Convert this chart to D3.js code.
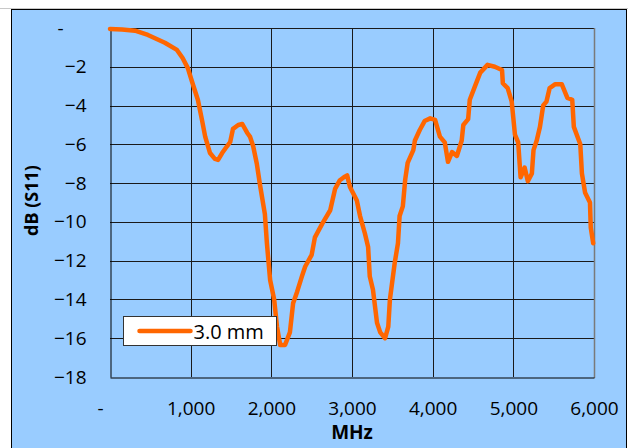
<!DOCTYPE html>
<html lang="en">
<head>
    <meta charset="UTF-8">
    <title>S11 chart</title>
    <script src="https://d3js.org/d3.v7.min.js"></script>
    <style>
        body { margin: 0; background: #fff; }
        text { font-family: "Open Sans", sans-serif; fill: #000; }
    </style>
</head>
<body>
<div id="chart"></div>
<script>
    // frequency (MHz) and return loss (dB)
    const freq = [0, 150, 310, 470, 680, 830, 900, 965, 1030, 1090, 1140, 1180, 1240, 1300, 1340, 1390,
        1450, 1490, 1525, 1590, 1640, 1700, 1735, 1775, 1820, 1860, 1920, 1945, 1985, 2035, 2070, 2110,
        2170, 2230, 2270, 2320, 2380, 2420, 2500, 2540, 2630, 2730, 2790, 2850, 2900, 2940, 2975, 3060,
        3100, 3160, 3200, 3220, 3260, 3310, 3350, 3410, 3450, 3470, 3530, 3570, 3590, 3630, 3660, 3690,
        3760, 3780, 3840, 3900, 3970, 4030, 4090, 4150, 4190, 4240, 4300, 4360, 4380, 4440, 4460, 4525,
        4590, 4680, 4770, 4860, 4870, 4930, 4980, 5020, 5060, 5090, 5140, 5180, 5230, 5250, 5290, 5330,
        5370, 5410, 5450, 5520, 5600, 5670, 5730, 5750, 5830, 5850, 5890, 5950, 5960, 5990];
    const s11 = [-0.05, -0.08, -0.14, -0.36, -0.76, -1.13, -1.55, -2.07, -2.94, -3.71, -4.74, -5.6, -6.45, -6.75, -6.8, -6.45,
        -6.1, -5.88, -5.2, -5.0, -4.95, -5.4, -5.6, -6.1, -7.0, -8.1, -9.6, -11.1, -13.0, -14.0, -15.4, -16.35,
        -16.35, -15.7, -14.2, -13.6, -12.8, -12.3, -11.7, -10.8, -10.1, -9.4, -8.3, -7.85, -7.7, -7.6, -8.2, -8.9,
        -9.7, -10.6, -11.3, -12.8, -13.5, -15.2, -15.7, -16.0, -15.4, -14.0, -12.1, -11.1, -9.7, -9.2, -7.8, -6.96,
        -6.3, -5.8, -5.26, -4.8, -4.66, -4.74, -5.6, -5.9, -6.9, -6.4, -6.6, -5.8, -5.0, -4.7, -3.7, -3.0,
        -2.3, -1.9, -2.0, -2.17, -2.85, -3.1, -3.8, -5.5, -5.9, -7.7, -7.2, -7.9, -7.5, -6.3, -5.8, -5.1,
        -4.0, -3.8, -3.1, -2.9, -2.9, -3.6, -3.7, -5.1, -6.0, -7.5, -8.5, -9.0, -10.3, -11.1];
    const xTicks = [0, 1000, 2000, 3000, 4000, 5000, 6000];
    const yTicks = [0, -2, -4, -6, -8, -10, -12, -14, -16, -18];
    const seriesName = "3.0 mm";

    const width = 634, height = 448;
    const plot = {left: 110, top: 28, right: 594, bottom: 377};

    const svg = d3.select("#chart").append("svg")
        .attr("width", width)
        .attr("height", height);

    // chart area
    svg.append("rect")
        .attr("x", 11.5).attr("y", 9.5)
        .attr("width", 615).attr("height", 460)
        .attr("fill", "#99ccff")
        .attr("stroke", "#000");
    svg.append("line")
        .attr("x1", 0).attr("x2", 628).attr("y1", 8.5).attr("y2", 8.5)
        .attr("stroke", "#c8c8c8");

    const x = d3.scaleLinear().domain([0, 6000]).range([plot.left, plot.right]);
    const y = d3.scaleLinear().domain([-18, 0]).range([plot.bottom, plot.top]);

    // grid
    const grid = svg.append("g");
    grid.selectAll(".hg").data(yTicks.filter(d => d > -18))
        .join("line")
        .attr("x1", plot.left).attr("x2", plot.right)
        .attr("y1", d => Math.round(y(d)) + 0.5).attr("y2", d => Math.round(y(d)) + 0.5)
        .attr("stroke", "#1a1a1a");
    grid.selectAll(".vg").data(xTicks.filter(d => d > 0 && d < 6000))
        .join("line")
        .attr("x1", d => Math.round(x(d)) + 0.5).attr("x2", d => Math.round(x(d)) + 0.5)
        .attr("y1", plot.top).attr("y2", plot.bottom)
        .attr("stroke", "#1a1a1a");
    // plot border right side
    svg.append("line")
        .attr("x1", plot.right + 0.5).attr("x2", plot.right + 0.5)
        .attr("y1", plot.top).attr("y2", plot.bottom + 1)
        .attr("stroke", "#7a7a7a").attr("stroke-width", 1.5);

    // axes
    const xAxis = svg.append("g")
        .attr("transform", `translate(0,${plot.bottom + 0.5})`)
        .call(d3.axisBottom(x).tickValues(xTicks).tickSize(0).tickPadding(24)
            .tickFormat(d => d === 0 ? "-" : d3.format(",")(d)));
    xAxis.select(".domain").attr("stroke", "#000");
    xAxis.selectAll("text").attr("font-size", 19).attr("font-family", null)
        .attr("dx", d => d === 0 ? -10 : 0);

    const yAxis = svg.append("g")
        .attr("transform", `translate(${plot.left + 0.5},0)`)
        .call(d3.axisLeft(y).tickValues(yTicks).tickSize(0).tickPadding(24)
            .tickFormat(d => d === 0 ? "-" : d3.format("d")(d)));
    yAxis.select(".domain").attr("stroke", "#000");
    yAxis.selectAll("text").attr("font-size", 19).attr("font-family", null)
        .attr("dx", d => d === 0 ? -23 : 0);

    // axis titles
    svg.append("text")
        .attr("x", (plot.left + plot.right) / 2)
        .attr("y", 439)
        .attr("text-anchor", "middle")
        .attr("font-size", 19)
        .attr("font-weight", "bold")
        .text("MHz");
    svg.append("text")
        .attr("transform", `translate(38,${(plot.top + plot.bottom) / 2 - 2}) rotate(-90)`)
        .attr("text-anchor", "middle")
        .attr("font-size", 18)
        .attr("font-weight", "bold")
        .text("dB (S11)");

    // series
    const line = d3.line()
        .x(i => x(freq[i]))
        .y(i => y(s11[i]));
    svg.append("path")
        .datum(d3.range(freq.length))
        .attr("d", line)
        .attr("fill", "none")
        .attr("stroke", "#ff6600")
        .attr("stroke-width", 4.5)
        .attr("stroke-linejoin", "round")
        .attr("stroke-linecap", "round");

    // legend
    const legend = svg.append("g").attr("transform", "translate(123.5,316.5)");
    legend.append("rect")
        .attr("width", 153).attr("height", 29)
        .attr("fill", "#fff")
        .attr("stroke", "#333");
    legend.append("line")
        .attr("x1", 16).attr("x2", 67).attr("y1", 14.5).attr("y2", 14.5)
        .attr("stroke", "#ff6600").attr("stroke-width", 4.5)
        .attr("stroke-linecap", "round");
    legend.append("text")
        .attr("x", 70).attr("y", 22)
        .attr("font-size", 20)
        .text(seriesName);
</script>
</body>
</html>
